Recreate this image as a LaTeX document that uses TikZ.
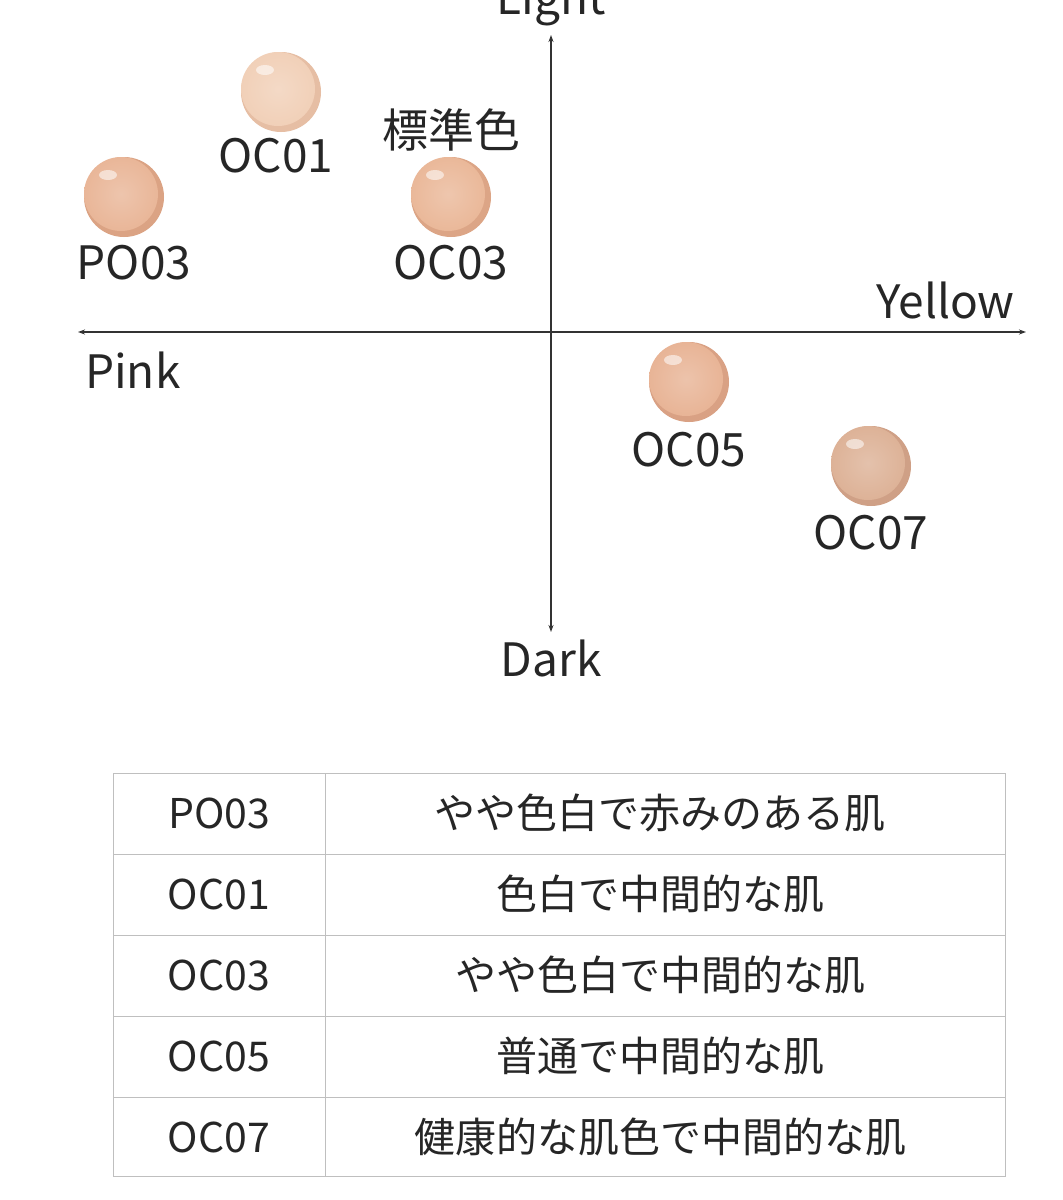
\documentclass[tikz,border=0pt]{standalone}
\usepackage{fontspec}
\setmainfont{Noto Sans CJK JP}
\usetikzlibrary{arrows.meta,shadings}
\begin{document}
\begin{tikzpicture}[x=1pt,y=-1pt,
  lbl/.style={font=\fontsize{46}{50}\selectfont,text=black!85,inner sep=0pt},
  cell/.style={font=\fontsize{41}{45}\selectfont,text=black!85,inner sep=0pt},
  ax/.style={draw=black!80,line width=1.2pt,-{Stealth[length=7pt,width=5pt]}},
  dot/.style={circle,minimum size=80pt,inner sep=0pt,draw=none}]
\useasboundingbox (0,0) rectangle (1063,1200);
\fill[white] (0,0) rectangle (1063,1200);
\coordinate (o) at (551,332);
\coordinate (t) at (551,35); \coordinate (b) at (551,632);
\coordinate (l) at (78,332); \coordinate (r) at (1026,332);
\draw[ax] (o) -- (t); \draw[ax] (o) -- (b);
\draw[ax] (o) -- (l); \draw[ax] (o) -- (r);
\node[lbl] (light) at (551,2) {Light};
\node[lbl,anchor=east] (yellow) at (1015,300) {Yellow};
\node[lbl,anchor=west] (pink) at (85,370) {Pink};
\node[lbl] (dark) at (551,658) {Dark};
\foreach \n/\x/\y/\c/\d in {d1/281/92/F1D0B8/E6BEA4, d2/124/197/E9B698/DBA384, d3/451/197/EAB899/DCA586, d5/689/382/E8B496/D9A184, d7/871/466/DDB297/CFA086}{
  \definecolor{cc}{HTML}{\c}\definecolor{cd}{HTML}{\d}
  \node[dot,fill=cd] (\n) at (\x,\y) {};
  \shade[inner color=cc!80!white,outer color=cc] (\x-3,\y-3) circle (37pt);
  \fill[white,opacity=0.55] (\x-16,\y-22) ellipse (9pt and 5pt);
}
\node[lbl] (n1) at (276,156) {OC01};
\node[lbl] (n2) at (134,263) {PO03};
\node[lbl] (n3) at (451,263) {OC03};
\node[lbl] (std) at (451,130) {標準色};
\node[lbl] (n5) at (689,450) {OC05};
\node[lbl] (n7) at (871,533) {OC07};
\draw[black!25,line width=1pt] (113,773) rectangle (1005,1176);
\draw[black!25,line width=1pt] (325,773) -- (325,1176);
\foreach \y in {854,935,1016,1097} \draw[black!25,line width=1pt] (113,\y) -- (1005,\y);
\foreach \i/\a/\b in {0/PO03/やや色白で赤みのある肌,1/OC01/色白で中間的な肌,2/OC03/やや色白で中間的な肌,3/OC05/普通で中間的な肌,4/OC07/健康的な肌色で中間的な肌}{
  \node[cell] (a\i) at (219,813+81*\i) {\a};
  \node[cell] (b\i) at (660,813+81*\i) {\b};
}
\end{tikzpicture}
\end{document}
